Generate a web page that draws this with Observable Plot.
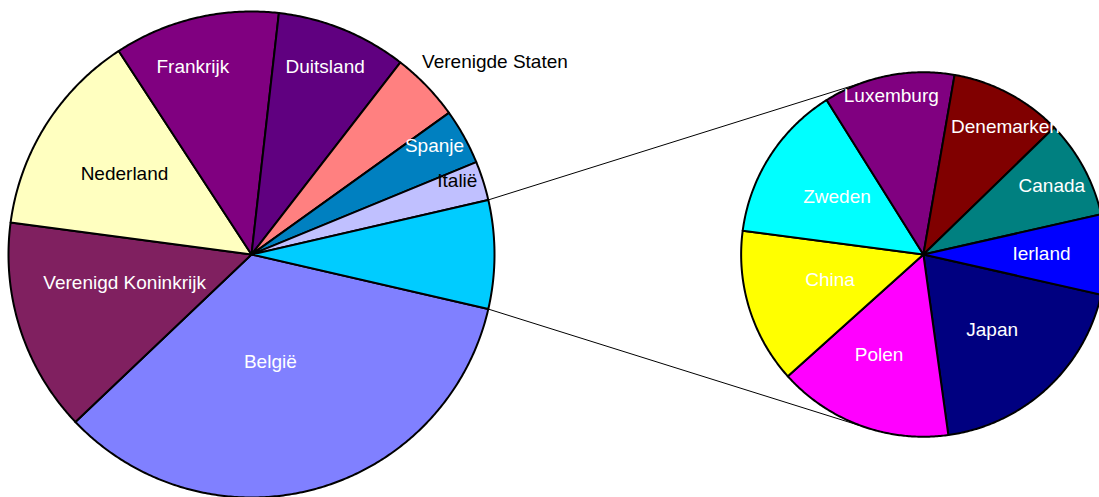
<!DOCTYPE html>
<html><head><meta charset="utf-8">
<script src="https://cdn.jsdelivr.net/npm/d3@7"></script>
<script src="https://cdn.jsdelivr.net/npm/@observablehq/plot@0.6"></script>
<style>html,body{margin:0;padding:0;background:#fff;overflow:hidden}</style>
</head><body><div id="chart"></div>
<script>
// ---- data ----
const mainCountries = ["België","Verenigd Koninkrijk","Nederland","Frankrijk","Duitsland","Verenigde Staten","Spanje","Italië"];
const mainValues = [34.3, 14.2, 13.7, 11.0, 8.7, 4.6, 3.7, 2.6];
const mainColors = ["#8080FF","#802060","#FFFFC0","#800080","#600080","#FF8080","#0080C0","#C0C0FF"];
const mainLabelColors = ["#ffffff","#ffffff","#000000","#ffffff","#ffffff","#000000","#ffffff","#000000"];
const otherSliceColor = "#00CCFF";
const otherCountries = ["Japan","Polen","China","Zweden","Luxemburg","Denemarken","Canada","Ierland"];
const otherValues = [1.39, 1.12, 0.99, 1.01, 0.84, 0.72, 0.63, 0.51];
const otherColors = ["#000080","#FF00FF","#FFFF00","#00FFFF","#800080","#800000","#008080","#0000FF"];
const otherLabelColors = ["#ffffff","#ffffff","#ffffff","#ffffff","#ffffff","#ffffff","#ffffff","#ffffff"];

// ---- layout ----
const W = 1099, H = 497;
const pxPerUnit = 243, cxPx = 251, cyPx = 254;
const secondCx = 2.765, secondR = 0.75;
const fontSize = 19;
// label placement: [radius fraction, angle offset from slice middle (deg)]
const labelLayout = {
  "België":[0.447,-5.3], "Verenigd Koninkrijk":[0.535,-5.4], "Nederland":[0.62,-0.3], "Frankrijk":[0.81,4.0],
  "Duitsland":[0.83,0.7], "Verenigde Staten":[1.06,4.6], "Spanje":[0.875,1.6], "Italië":[0.90,2.1],
  "Japan":[0.56,-0.2], "Polen":[0.60,-3.8], "China":[0.53,-2.2], "Zweden":[0.57,-1.0],
  "Luxemburg":[0.89,0.3], "Denemarken":[0.83,-5.0], "Canada":[0.80,-0.2], "Ierland":[0.648,0.5]
};

const rad = d => d * Math.PI / 180;
const total = d3.sum(mainValues) + d3.sum(otherValues);
const otherTotal = d3.sum(otherValues);

function buildPie(names, values, colors, labelColors, cx, cy, r, startDeg, sum, prefix) {
  const polys = [], labels = [];
  let a = startDeg;
  names.forEach((name, i) => {
    const span = values[i] / sum * 360;
    const a0 = a, a1 = a - span;
    const id = prefix + i;
    polys.push({id, x: cx, y: cy, color: colors[i]});
    const n = Math.max(2, Math.ceil(span * 2));
    for (let k = 0; k <= n; k++) {
      const t = rad(a0 + (a1 - a0) * k / n);
      polys.push({id, x: cx + r * Math.cos(t), y: cy + r * Math.sin(t), color: colors[i]});
    }
    polys.push({id, x: cx, y: cy, color: colors[i]});
    if (labelColors && labelColors[i]) {
      const [f, off] = labelLayout[name] || [0.6, 0];
      const m = rad((a0 + a1) / 2 + off);
      labels.push({name, x: cx + f * r * Math.cos(m), y: cy + f * r * Math.sin(m), fill: labelColors[i]});
    }
    a = a1;
  });
  return {polys, labels};
}

// left pie: "other" slice centred on 3 o'clock, main slices clockwise after it
const otherSpan = otherTotal / total * 360;
const left = buildPie(
  [...mainCountries, "__other"], [...mainValues, otherTotal], [...mainColors, otherSliceColor],
  [...mainLabelColors, null], 0, 0, 1, -otherSpan / 2, total, "L");
// right pie
const lastSpan = otherValues[otherValues.length - 1] / otherTotal * 360;
const right = buildPie(otherCountries, otherValues, otherColors, otherLabelColors,
  secondCx, 0, secondR, -lastSpan / 2, otherTotal, "R");

// connector lines: from other-slice edges tangent to the second pie
function tangent(px, py, sign) {
  const dx = px - secondCx, dy = py - 0, d = Math.hypot(dx, dy);
  const phi = Math.atan2(dy, dx), al = Math.acos(secondR / d);
  const t = phi + sign * al;
  return [secondCx + secondR * Math.cos(t), secondR * Math.sin(t)];
}
const pTop = [Math.cos(rad(otherSpan / 2)), Math.sin(rad(otherSpan / 2))];
const pBot = [Math.cos(rad(-otherSpan / 2)), Math.sin(rad(-otherSpan / 2))];
const tTop = tangent(pTop[0], pTop[1], -1);
const tBot = tangent(pBot[0], pBot[1], +1);
const connectors = [
  {x1: pTop[0], y1: pTop[1], x2: tTop[0], y2: tTop[1]},
  {x1: pBot[0], y1: pBot[1], x2: tBot[0], y2: tBot[1]}
];

const allPolys = [...left.polys, ...right.polys];
const labelsMid = [...left.labels, ...right.labels].filter(d => d.name !== "Verenigde Staten");
const labelsStart = left.labels.filter(d => d.name === "Verenigde Staten");

const chart = Plot.plot({
  width: W, height: H,
  margin: 0,
  x: {domain: [-cxPx / pxPerUnit, (W - cxPx) / pxPerUnit], axis: null},
  y: {domain: [(cyPx - H) / pxPerUnit, cyPx / pxPerUnit], axis: null},
  color: {type: "identity"},
  style: {background: "#ffffff", overflow: "hidden", fontFamily: "'Liberation Sans', Arial, sans-serif"},
  marks: [
    Plot.link(connectors, {x1: "x1", y1: "y1", x2: "x2", y2: "y2", stroke: "#000", strokeWidth: 1}),
    Plot.line(allPolys, {x: "x", y: "y", z: "id", fill: "color", stroke: "#000", strokeWidth: 2, curve: "linear", strokeLinejoin: "round"}),
    Plot.text(labelsMid, {x: "x", y: "y", text: "name", fill: "fill", fontSize, textAnchor: "middle", fontFamily: "'Liberation Sans', Arial, sans-serif"}),
    Plot.text(labelsStart, {x: "x", y: "y", text: "name", fill: "fill", fontSize, textAnchor: "start", fontFamily: "'Liberation Sans', Arial, sans-serif"})
  ]
});
document.getElementById("chart").appendChild(chart);
</script>
</body></html>
